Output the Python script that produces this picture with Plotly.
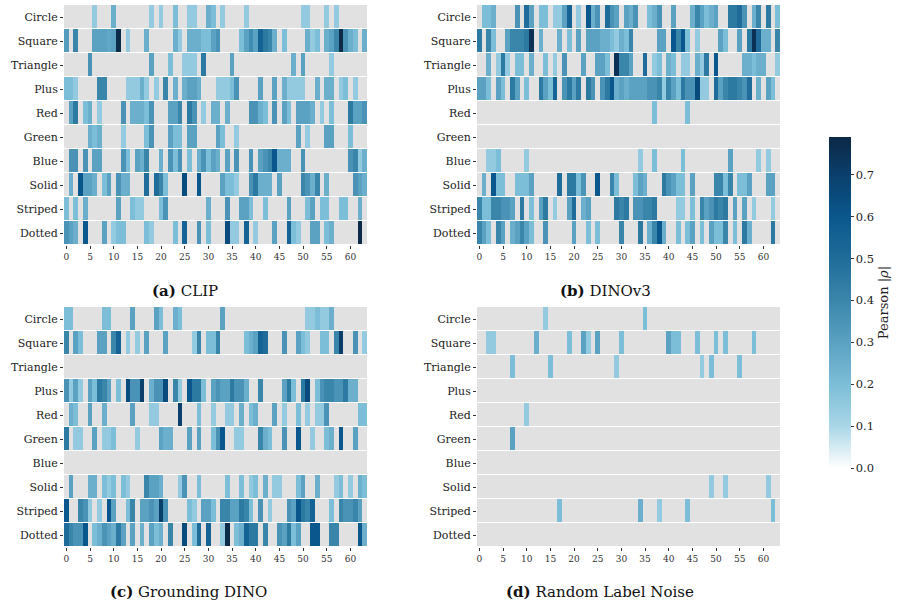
import plotly.graph_objects as go

rows = ["Circle", "Square", "Triangle", "Plus", "Red", "Green", "Blue", "Solid", "Striped", "Dotted"]
n_cols = 64
x_ticks = list(range(0, 61, 5))

# Sparse readings: {row: {column: |rho|}}; missing cells are non-significant (grey)
clip_vals = {
    "Circle": {6:.15,10:.25,18:.15,20:.15,23:.2,26:.15,27:.15,30:.25,31:.2,33:.15,38:.15,50:.15,51:.15,55:.15,57:.15},
    "Square": {0:.32,2:.4,6:.3,7:.3,8:.3,9:.28,10:.3,11:.78,13:.15,17:.25,23:.25,24:.15,26:.25,27:.25,28:.25,29:.2,30:.2,31:.3,32:.35,37:.2,38:.3,39:.38,40:.3,41:.55,42:.45,43:.4,44:.25,46:.2,51:.25,52:.15,53:.2,55:.25,56:.3,57:.4,58:.78,59:.35,60:.25,61:.2,63:.25},
    "Triangle": {5:.35,18:.3,22:.2,25:.15,26:.15,27:.15,29:.45,35:.3,48:.25,50:.3,56:.15},
    "Plus": {0:.2,1:.2,2:.15,7:.4,8:.4,13:.15,14:.15,15:.15,16:.25,17:.15,19:.15,21:.4,23:.25,25:.25,26:.3,27:.3,28:.25,32:.15,33:.15,34:.15,35:.2,36:.35,41:.3,44:.3,46:.25,47:.15,48:.15,49:.15,50:.15,53:.25,55:.25,56:.25,58:.15,59:.2,61:.15},
    "Red": {1:.3,2:.45,4:.2,5:.25,7:.15,12:.35,14:.25,15:.25,16:.25,17:.2,18:.35,22:.3,23:.3,24:.4,26:.45,27:.35,29:.15,31:.25,32:.25,34:.25,39:.35,40:.35,41:.25,42:.2,44:.35,46:.3,47:.2,49:.3,50:.3,51:.3,52:.25,54:.15,56:.2,60:.45,61:.3,62:.3,63:.35},
    "Green": {5:.25,6:.2,7:.25,12:.15,17:.2,18:.35,22:.3,23:.2,24:.2,26:.3,27:.3,32:.3,33:.2,36:.15,49:.3,51:.15,55:.3,56:.3,60:.2},
    "Blue": {1:.35,2:.35,4:.35,6:.3,7:.3,12:.35,13:.2,15:.3,16:.25,17:.4,20:.25,22:.35,23:.2,24:.35,26:.2,28:.25,29:.35,30:.2,31:.3,32:.25,34:.3,36:.35,39:.35,41:.3,42:.35,43:.4,44:.6,45:.25,46:.25,47:.25,50:.35,60:.35,61:.4,62:.15,63:.25},
    "Solid": {1:.25,3:.6,4:.3,5:.3,6:.25,8:.2,9:.3,11:.35,12:.25,13:.25,17:.5,19:.5,20:.4,21:.2,25:.65,28:.6,33:.3,34:.2,35:.2,36:.15,39:.35,40:.45,41:.25,42:.25,43:.25,45:.3,50:.4,51:.35,52:.25,53:.4,55:.25,61:.35,62:.3,63:.25},
    "Striped": {0:.2,2:.2,4:.25,11:.3,14:.2,15:.15,16:.15,20:.2,21:.35,30:.25,34:.35,37:.3,38:.3,39:.2,42:.2,47:.3,51:.2,52:.3,54:.2,55:.2,58:.2,59:.2,62:.25},
    "Dotted": {0:.35,1:.3,2:.25,4:.6,8:.3,10:.15,11:.2,12:.2,17:.2,18:.15,23:.2,25:.55,28:.35,30:.2,34:.65,35:.15,36:.15,38:.55,40:.15,44:.3,47:.55,48:.2,49:.15,52:.3,53:.3,55:.2,56:.25,62:.78},
}

dino_vals = {
    "Circle": {1:.2,2:.2,3:.25,8:.35,10:.5,11:.3,13:.2,14:.2,16:.15,17:.15,18:.3,19:.55,21:.15,23:.6,24:.25,25:.35,27:.5,28:.35,29:.3,31:.3,32:.25,33:.35,36:.2,37:.25,38:.35,41:.3,45:.25,46:.4,47:.3,48:.2,49:.25,50:.3,53:.45,54:.45,55:.5,56:.35,58:.25,59:.4,61:.45,63:.2},
    "Square": {0:.45,2:.4,3:.2,6:.3,7:.4,8:.4,9:.4,10:.45,11:.75,13:.25,17:.25,19:.2,21:.3,23:.3,24:.3,25:.3,26:.25,27:.25,28:.2,29:.15,30:.25,31:.2,32:.4,38:.3,39:.3,41:.6,42:.4,43:.6,44:.2,46:.15,51:.3,52:.2,55:.3,57:.45,58:.75,59:.5,60:.25,61:.25,63:.4},
    "Triangle": {2:.25,4:.15,5:.45,6:.15,8:.2,9:.2,11:.25,14:.2,16:.15,18:.35,22:.3,25:.3,26:.3,27:.2,29:.75,30:.4,31:.4,32:.3,35:.5,37:.15,38:.2,40:.25,41:.2,43:.15,44:.15,46:.25,47:.15,48:.45,50:.6,56:.25,57:.25,58:.2,59:.25,60:.25,63:.15},
    "Plus": {0:.3,1:.3,2:.2,4:.3,5:.2,7:.45,8:.3,10:.2,13:.45,14:.3,15:.2,16:.55,18:.35,19:.45,20:.3,21:.45,23:.45,24:.35,26:.35,27:.45,28:.6,29:.25,30:.3,31:.25,32:.3,33:.3,34:.3,35:.3,36:.35,37:.35,38:.4,39:.15,40:.4,41:.3,42:.2,43:.45,44:.35,45:.35,46:.65,47:.15,48:.15,50:.5,51:.3,52:.4,53:.45,54:.45,55:.4,56:.35,57:.5,59:.25,61:.3,62:.2},
    "Red": {37:.2,44:.2},
    "Green": {},
    "Blue": {2:.15,3:.15,4:.2,10:.15,34:.15,37:.2,43:.2,53:.3,59:.15,61:.15},
    "Solid": {1:.25,3:.6,4:.2,5:.2,8:.2,9:.2,10:.2,11:.3,17:.5,19:.45,20:.45,21:.2,22:.35,25:.6,28:.4,29:.2,33:.2,34:.3,35:.25,39:.45,40:.35,41:.3,42:.2,43:.2,45:.3,50:.4,51:.4,52:.2,53:.4,55:.2,56:.2,57:.3,61:.3,62:.3},
    "Striped": {0:.4,1:.2,2:.2,3:.4,4:.4,5:.35,6:.35,7:.3,9:.45,11:.2,13:.3,14:.45,16:.15,19:.3,20:.5,22:.25,23:.3,29:.45,30:.4,31:.45,33:.35,34:.35,35:.4,36:.4,37:.45,42:.15,43:.15,45:.2,47:.4,48:.3,49:.35,50:.45,51:.4,52:.45,54:.3,56:.3,58:.15,62:.15},
    "Dotted": {0:.4,1:.3,2:.2,4:.4,5:.3,7:.25,8:.3,9:.4,10:.3,11:.2,14:.35,20:.3,23:.2,25:.2,30:.4,34:.45,36:.25,37:.4,38:.6,39:.25,42:.2,44:.2,45:.3,47:.2,49:.3,50:.2,51:.2,52:.4,54:.2,56:.45,57:.25,62:.45},
}

gdino_vals = {
    "Circle": {0:.2,1:.2,8:.2,9:.2,14:.3,19:.3,20:.2,23:.25,24:.2,33:.3,51:.15,52:.15,53:.2,54:.15,55:.15,56:.25},
    "Square": {0:.4,2:.3,3:.2,7:.3,8:.3,10:.4,11:.55,13:.15,15:.15,17:.3,21:.3,27:.15,28:.4,30:.2,31:.2,32:.4,38:.2,39:.25,40:.3,41:.55,42:.5,46:.35,49:.3,50:.2,51:.15,54:.2,55:.2,57:.4,58:.7,61:.35,63:.15},
    "Triangle": {},
    "Plus": {0:.35,1:.15,2:.3,3:.15,5:.3,6:.2,7:.45,8:.4,9:.3,11:.2,13:.65,14:.35,15:.35,16:.7,18:.25,19:.35,20:.35,21:.65,23:.4,24:.15,26:.6,27:.45,28:.45,29:.2,31:.3,32:.35,33:.3,34:.3,35:.45,36:.35,37:.35,38:.25,41:.4,46:.3,47:.45,48:.2,50:.45,51:.65,53:.2,54:.35,55:.4,56:.4,57:.35,58:.35,59:.45,60:.25,61:.25},
    "Red": {1:.25,2:.2,5:.3,8:.25,14:.3,18:.15,19:.15,24:.7,28:.2,31:.15,34:.15,35:.15,37:.25,39:.2,40:.25,44:.3,46:.15,49:.2,51:.15,53:.15,54:.15,55:.35,62:.2,63:.2},
    "Green": {0:.45,2:.15,3:.15,6:.3,8:.15,9:.15,10:.2,15:.15,20:.3,21:.25,22:.25,26:.3,28:.3,31:.2,32:.35,33:.6,36:.15,37:.15,41:.4,42:.25,43:.2,46:.35,49:.6,52:.15,55:.2,56:.25,58:.6,61:.3},
    "Blue": {},
    "Solid": {1:.3,5:.25,6:.25,8:.2,9:.15,10:.2,12:.2,13:.15,17:.4,18:.3,19:.3,20:.25,24:.15,25:.35,28:.2,34:.2,37:.2,39:.15,40:.2,42:.25,44:.15,45:.15,49:.2,50:.3,53:.25,57:.15,58:.2,60:.15,62:.25,63:.2},
    "Striped": {0:.6,3:.4,4:.35,5:.15,7:.15,9:.6,10:.3,13:.2,14:.4,16:.3,17:.3,18:.35,19:.3,20:.7,21:.35,26:.2,27:.15,29:.3,30:.3,31:.2,33:.4,34:.4,35:.3,36:.3,37:.45,38:.4,39:.2,41:.35,43:.15,47:.35,48:.3,49:.6,50:.45,51:.4,52:.55,56:.2,58:.4,59:.35,60:.35,61:.4,62:.3},
    "Dotted": {0:.5,1:.4,2:.35,3:.35,4:.6,6:.2,7:.25,8:.35,9:.3,10:.25,11:.45,12:.3,14:.3,16:.25,18:.3,19:.2,20:.25,22:.4,25:.65,27:.2,28:.5,30:.55,33:.15,34:.78,36:.2,37:.25,38:.55,39:.45,40:.45,42:.4,45:.35,46:.3,47:.45,48:.2,49:.3,52:.6,53:.6,56:.4,57:.4,62:.6,63:.25},
}

noise_vals = {
    "Circle": {14:.15,35:.2},
    "Square": {2:.15,3:.15,12:.25,19:.2,22:.3,23:.15,25:.3,30:.2,40:.3,41:.2,42:.2,46:.2,50:.2,52:.2,58:.2},
    "Triangle": {7:.2,15:.2,29:.15,47:.15,49:.2,55:.2},
    "Plus": {},
    "Red": {10:.15},
    "Green": {7:.3},
    "Blue": {},
    "Solid": {49:.15,52:.15,61:.15},
    "Striped": {17:.2,34:.25,38:.15,44:.2,62:.2},
    "Dotted": {},
}

captions = ["<b>(a)</b> CLIP", "<b>(b)</b> DINOv3", "<b>(c)</b> Grounding DINO", "<b>(d)</b> Random Label Noise"]
panels = [clip_vals, dino_vals, gdino_vals, noise_vals]

W, H = 907, 607
FONT = "DejaVu Serif"
zmax = 0.79

colorscale = [
    [0.0, "#ffffff"], [0.127, "#a9d6e7"], [0.253, "#7cbdd7"], [0.38, "#5aa1c2"],
    [0.506, "#3a86ab"], [0.633, "#1f6c9a"], [0.76, "#0a578d"], [0.886, "#0a3f6c"], [1.0, "#0c2845"],
]

# panel pixel boxes (left, right, top, bottom)
boxes = [(64, 367, 5, 245), (477, 780, 5, 245), (64, 367, 307, 547), (477, 780, 307, 547)]
cap_pos = [(185, 291), (605, 291), (188, 592), (600, 592)]

fig = go.Figure()
xs = list(range(n_cols))
ys = list(range(len(rows)))
for i, vals in enumerate(panels):
    ax = "" if i == 0 else str(i + 1)
    z = [[vals[r].get(c) for c in xs] for r in rows]
    bg = [[1 for _ in xs] for _ in rows]
    fig.add_trace(go.Heatmap(x=xs, y=ys, z=bg, colorscale=[[0, "#e1e1e1"], [1, "#e1e1e1"]],
                             showscale=False, ygap=1, hoverinfo="skip",
                             xaxis="x" + ax, yaxis="y" + ax))
    fig.add_trace(go.Heatmap(x=xs, y=ys, z=z, coloraxis="coloraxis", ygap=1,
                             xaxis="x" + ax, yaxis="y" + ax))
    l, r, t, b = boxes[i]
    fig.layout["xaxis" + ax] = dict(
        domain=[l / W, r / W], range=[-0.5, n_cols - 0.5], anchor="y" + ax,
        tickvals=x_ticks, ticks="outside", ticklen=3, tickwidth=1, tickcolor="#333",
        showgrid=False, zeroline=False, showline=False,
        tickfont=dict(family=FONT, size=9, color="#333"))
    fig.layout["yaxis" + ax] = dict(
        domain=[1 - b / H, 1 - t / H], range=[len(rows) - 0.5, -0.5], anchor="x" + ax,
        tickvals=ys, ticktext=rows, ticks="outside", ticklen=3, tickwidth=1, tickcolor="#333",
        showgrid=False, zeroline=False, showline=False,
        tickfont=dict(family=FONT, size=11, color="#222"))
    cx, cy = cap_pos[i]
    fig.add_annotation(x=cx / W, y=1 - cy / H, xref="paper", yref="paper", text=captions[i],
                       showarrow=False, xanchor="center", yanchor="middle",
                       font=dict(family=FONT, size=15, color="#111"))

fig.update_layout(
    width=W, height=H, margin=dict(l=0, r=0, t=0, b=0),
    paper_bgcolor="white", plot_bgcolor="white",
    coloraxis=dict(
        cmin=0, cmax=zmax, colorscale=colorscale,
        colorbar=dict(
            x=829 / W, xanchor="left", xref="paper", xpad=0, ypad=0,
            y=1 - 302.5 / H, yanchor="middle",
            len=(468 - 137) / H, lenmode="fraction", thickness=22, outlinewidth=0,
            tickvals=[0, .1, .2, .3, .4, .5, .6, .7], ticktext=["0.0", "0.1", "0.2", "0.3", "0.4", "0.5", "0.6", "0.7"],
            ticks="outside", ticklen=3, tickcolor="#333",
            tickfont=dict(family=FONT, size=11.5, color="#222"),
            title=dict(text="Pearson |<i>ρ</i>|", side="right", font=dict(family=FONT, size=13, color="#222")),
        ),
    ),
    showlegend=False,
)

fig.write_html("out.html")
